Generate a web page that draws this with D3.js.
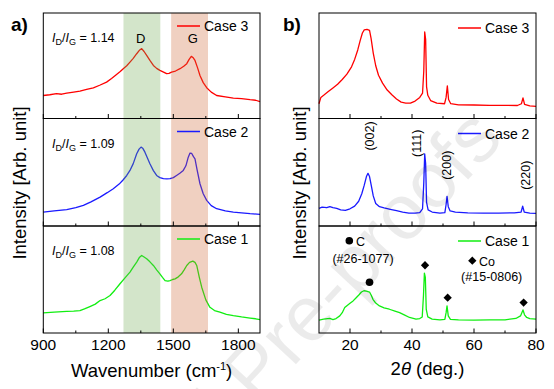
<!DOCTYPE html>
<html>
<head>
<meta charset="utf-8">
<script src="https://cdn.jsdelivr.net/npm/d3@7"></script>
<style>
  body { margin: 0; background: #fff; }
  svg { display: block; font-family: Arial, "Liberation Sans", sans-serif; }
</style>
</head>
<body>
<svg id="chart" width="554" height="389"></svg>
<script>
// ---- Raman (panel a) ----
const ramanCase3 = [[900,21.8],[930,22.5],[961,23.5],[985,23],[1008,24],[1040,25],[1069,26],[1100,27.5],[1131,29],[1160,31.5],[1192,34.5],[1215,38],[1238,41.8],[1255,44.5],[1269,47.2],[1285,50],[1300,53.5],[1315,57],[1331,61.4],[1345,65],[1354,66.2],[1365,63.5],[1377,59.8],[1392,55],[1408,50.3],[1423,47.5],[1438,45.6],[1455,44],[1469,42.5],[1480,42.8],[1492,44],[1510,45],[1531,47.2],[1548,49.5],[1562,52],[1573,56],[1583,58.9],[1592,57.5],[1600,55],[1612,48],[1623,40.8],[1638,34],[1654,29.2],[1675,25],[1700,21.8],[1740,20.5],[1777,19.3],[1815,18.8],[1854,17.8],[1880,17.3],[1900,16.1]];
const ramanCase2 = [[900,13],[950,14],[1008,15.2],[1050,17],[1085,19.2],[1120,22.5],[1162,26.9],[1195,31],[1223,34.7],[1250,39],[1269,43],[1285,47],[1300,51.7],[1315,58],[1331,67.2],[1342,71.5],[1351,73.4],[1360,72],[1369,68.7],[1380,63.5],[1392,57.9],[1408,51.5],[1423,47],[1438,45],[1454,44],[1470,43.8],[1485,44],[1500,45],[1515,47],[1530,49],[1546,51.7],[1558,56],[1569,64],[1577,67.8],[1585,67.5],[1593,64.5],[1600,62.5],[1610,52],[1623,39.3],[1638,30],[1654,23.8],[1675,19],[1700,16.1],[1740,14],[1777,13],[1815,12.3],[1854,11.5],[1900,10.8]];
const ramanCase1 = [[900,18.75],[950,19.5],[1008,20.3],[1040,20.5],[1069,20.9],[1090,22.5],[1115,24.7],[1140,27],[1162,30.3],[1185,32],[1208,35],[1230,40],[1254,46],[1277,51.5],[1300,56.9],[1315,61.5],[1331,66.3],[1343,70.5],[1354,72.5],[1365,71],[1377,69.4],[1392,66.5],[1408,63.1],[1423,59],[1438,55.3],[1450,52],[1462,49],[1475,48.5],[1485,49],[1497,50],[1508,50.6],[1523,52.5],[1538,55.3],[1550,59],[1562,63.1],[1575,66],[1590,67.2],[1600,66],[1608,63.1],[1620,52],[1631,42.8],[1650,31],[1669,24],[1690,21],[1715,19.4],[1745,17.5],[1777,16.25],[1815,15],[1854,14],[1880,13.3],[1900,12.5]];
const ramanRatios = ["1.14", "1.09", "1.08"];
const ramanBands = [{ name: "D", from: 1270, to: 1440, peak: 1350 }, { name: "G", from: 1490, to: 1660, peak: 1590 }];
const ramanMajor = [900, 1200, 1500, 1800];
const ramanMinor = [1050, 1350, 1650];

// ---- XRD (panel b) ----
const xrdCase3 = [[10,14],[10.6,20],[11.5,22],[13,25.5],[14.5,29],[16,32.5],[17.5,37],[19,42],[20.5,49],[21.5,56],[22.5,65],[23.3,74],[24,81],[24.6,84],[25.5,84.5],[26.3,83.5],[26.8,76],[27.5,62],[28.3,50],[29.2,41],[30.5,33.5],[32,27],[33.5,22.5],[35,18.5],[36.5,15.5],[38,14.5],[39.5,14.5],[41,16.5],[42.5,20],[43.4,24],[43.8,45],[44.1,82],[44.4,75],[44.7,30],[45.1,22],[46,17],[48,14.5],[50.5,14],[51,20],[51.4,31],[51.8,18],[52.5,14],[55,13],[60,12.8],[65,12.5],[70,12.5],[74,12.3],[75.3,14],[75.8,19.5],[76.3,13.5],[78,12],[80,11.5]];
const xrdCase2 = [[10,16.4],[11,17.5],[12.5,17],[13.5,18],[14.5,17],[15.7,16.4],[17,15],[18.5,14.5],[20,16],[21.5,18.5],[22.8,23],[23.8,30],[24.6,38],[25.3,46],[25.8,49],[26.3,46],[26.9,37],[27.5,28],[28.3,21],[29.5,18],[31,16.8],[33,15.5],[35,14.2],[37,13],[39,12],[41,12],[42.5,12.5],[43.4,16],[43.8,40],[44.1,67],[44.4,58],[44.7,22],[45.2,15],[46.5,13],[49,12],[50.6,12.5],[51,20],[51.3,27.5],[51.7,18],[52.3,14],[54,13],[58,12.3],[63,12],[68,12],[73,12.2],[75.2,13],[75.7,18.5],[76.2,13],[78,12],[80,11.7]];
const xrdCase1 = [[10,12],[11.5,13],[13.5,13.6],[14.5,12.5],[15.5,13.5],[16.7,16],[17.5,19],[18.3,23.8],[19.2,26],[20,27.8],[21,30],[22,33],[23,36],[23.7,38.3],[24.5,39.5],[25.3,39.2],[26.3,38.3],[26.9,35],[27.4,31.5],[28.3,28],[29.5,25.3],[31,23.5],[32.7,22.2],[34.5,20.5],[36,19],[37.5,17],[39.2,14.5],[41.3,13],[42.5,13.5],[43.3,15],[43.7,35],[44,56],[44.3,52],[44.6,22],[45.1,15],[46.5,13],[49,12.3],[50.6,12.8],[51,19],[51.3,25.3],[51.7,16],[52.4,12.8],[55,12.3],[60,12],[65,12.2],[70,12.3],[73.5,13.6],[75,16],[75.8,21.6],[76.3,17],[77,14.5],[78,13.5],[80,13]];
const xrdPlanes = [{ label: "(002)", x: 26.3, y: 83.7 }, { label: "(111)", x: 41.5, y: 77 }, { label: "(200)", x: 51.2, y: 56.5 }, { label: "(220)", x: 76.5, y: 47.2 }];
const carbonMarks = [[26.3, 47.5]];
const cobaltMarks = [[44.2, 63.3], [51.5, 33], [76, 28.4]];
const xrdMajor = [20, 40, 60, 80];
const xrdMinor = [30, 50, 70];

const caseNames = ["Case 3", "Case 2", "Case 1"];
const caseColors = ["#ff0000", "#1a1aff", "#11ee11"];

const svg = d3.select("#chart");
const rows = [13, 118.5, 226, 333];
const fontFam = 'Arial, "Liberation Sans", sans-serif';

function drawPanel(opt) {
    const g = svg.append("g");
    const x = d3.scaleLinear().domain(opt.domain).range([opt.left, opt.right]);

    // subplots: curves first
    opt.series.forEach((s, i) => {
        const y = d3.scaleLinear().domain([0, 100]).range([rows[i + 1], rows[i]]);
        g.append("path")
            .datum(s)
            .attr("fill", "none")
            .attr("stroke", caseColors[i])
            .attr("stroke-width", 1.3)
            .attr("stroke-linejoin", "round")
            .attr("d", d3.line().x(d => x(d[0])).y(d => y(d[1])));
    });

    // highlighted bands over the curves (semi-transparent)
    if (opt.bands) {
        const bandColors = ["rgba(110,170,80,0.3)", "rgba(205,100,50,0.3)"];
        opt.bands.forEach((b, k) => {
            g.append("rect")
                .attr("x", x(b.from)).attr("y", rows[0])
                .attr("width", x(b.to) - x(b.from))
                .attr("height", rows[3] - rows[0])
                .attr("fill", bandColors[k]);
            g.append("text")
                .attr("x", x(b.peak)).attr("y", rows[0] + 30)
                .attr("text-anchor", "middle")
                .attr("font-size", 13)
                .text(b.name);
        });
    }

    opt.series.forEach((s, i) => {
        const top = rows[i], bottom = rows[i + 1];
        // frame
        g.append("rect")
            .attr("x", opt.left).attr("y", top)
            .attr("width", opt.right - opt.left).attr("height", bottom - top)
            .attr("fill", "none").attr("stroke", "#000").attr("stroke-width", 1);
        // inward ticks on the bottom edge
        const axis = g.append("g").attr("transform", `translate(0,${bottom})`);
        axis.selectAll(".maj").data(opt.major).join("line")
            .attr("x1", d => x(d)).attr("x2", d => x(d))
            .attr("y1", 0).attr("y2", -4.5)
            .attr("stroke", "#000");
        axis.selectAll(".min").data(opt.minor).join("line")
            .attr("x1", d => x(d)).attr("x2", d => x(d))
            .attr("y1", 0).attr("y2", -2.5)
            .attr("stroke", "#000");
        // legend
        g.append("line")
            .attr("x1", opt.legendX).attr("x2", opt.legendX + 23)
            .attr("y1", top + opt.legendDy).attr("y2", top + opt.legendDy)
            .attr("stroke", caseColors[i]).attr("stroke-width", 1.5);
        g.append("text")
            .attr("x", opt.legendX + 27).attr("y", top + opt.legendDy + 5)
            .attr("font-size", 14)
            .text(caseNames[i]);
    });

    // tick labels
    g.selectAll(".tl").data(opt.major).join("text")
        .attr("x", d => x(d)).attr("y", rows[3] + 17)
        .attr("text-anchor", "middle")
        .attr("font-size", 15.5)
        .text(d => d);

    return x;
}

// ---- panel a ----
const xa = drawPanel({
    left: 43.3, right: 260, domain: [900, 1900],
    series: [ramanCase3, ramanCase2, ramanCase1],
    major: ramanMajor, minor: ramanMinor, bands: ramanBands,
    legendX: 177, legendDy: 13
});

ramanRatios.forEach((r, i) => {
    const t = svg.append("text")
        .attr("x", 52).attr("y", rows[i] + 29)
        .attr("font-size", 12.5);
    t.append("tspan").attr("font-style", "italic").text("I");
    t.append("tspan").attr("font-size", 9).attr("dy", 3).text("D");
    t.append("tspan").attr("dy", -3).text("/");
    t.append("tspan").attr("font-style", "italic").text("I");
    t.append("tspan").attr("font-size", 9).attr("dy", 3).text("G");
    t.append("tspan").attr("dy", -3).text(" = " + r);
});

const xTitleA = svg.append("text")
    .attr("x", (43.3 + 260) / 2).attr("y", 377)
    .attr("text-anchor", "middle").attr("font-size", 18.5);
xTitleA.append("tspan").text("Wavenumber (cm");
xTitleA.append("tspan").attr("font-size", 11).attr("dy", -7).text("-1");
xTitleA.append("tspan").attr("dy", 7).text(")");

// ---- panel b ----
const xb = drawPanel({
    left: 319, right: 536, domain: [10, 80],
    series: [xrdCase3, xrdCase2, xrdCase1],
    major: xrdMajor, minor: xrdMinor,
    legendX: 458, legendDy: 15
});

const yRow2 = d3.scaleLinear().domain([0, 100]).range([rows[2], rows[1]]);
const yRow3 = d3.scaleLinear().domain([0, 100]).range([rows[3], rows[2]]);

xrdPlanes.forEach(p => {
    svg.append("text")
        .attr("transform", `translate(${xb(p.x)},${yRow2(p.y)}) rotate(-90)`)
        .attr("text-anchor", "middle").attr("dy", "0.35em")
        .attr("font-size", 12.5)
        .text(p.label);
});

const diamond = d3.symbol().type(d3.symbolDiamond2).size(44);
svg.selectAll(".cmark").data(carbonMarks).join("circle")
    .attr("cx", d => xb(d[0])).attr("cy", d => yRow3(d[1])).attr("r", 3.8).attr("fill", "#000");
svg.selectAll(".comark").data(cobaltMarks).join("path")
    .attr("transform", d => `translate(${xb(d[0])},${yRow3(d[1])})`)
    .attr("d", diamond).attr("fill", "#000");

// phase key
svg.append("circle").attr("cx", 349.3).attr("cy", 240.7).attr("r", 3.8).attr("fill", "#000");
svg.append("text").attr("x", 356).attr("y", 245.5).attr("font-size", 12.5).text("C");
svg.append("text").attr("x", 363).attr("y", 262.5).attr("text-anchor", "middle").attr("font-size", 12.5).text("(#26-1077)");
svg.append("path").attr("transform", "translate(472.3,260.7)").attr("d", diamond).attr("fill", "#000");
svg.append("text").attr("x", 479).attr("y", 265.5).attr("font-size", 12.5).text("Co");
svg.append("text").attr("x", 491.7).attr("y", 281).attr("text-anchor", "middle").attr("font-size", 12.5).text("(#15-0806)");

const xTitleB = svg.append("text")
    .attr("x", (319 + 536) / 2).attr("y", 375)
    .attr("text-anchor", "middle").attr("font-size", 18.5);
xTitleB.append("tspan").text("2");
xTitleB.append("tspan").attr("font-style", "italic").text("θ");
xTitleB.append("tspan").text(" (deg.)");

// ---- shared labels ----
[[19.5, 183], [299.5, 183]].forEach(([cx, cy]) => {
    svg.append("text")
        .attr("transform", `translate(${cx},${cy}) rotate(-90)`)
        .attr("text-anchor", "middle").attr("dy", "0.35em")
        .attr("font-size", 18.5)
        .text("Intensity [Arb. unit]");
});

svg.append("text").attr("x", 11).attr("y", 31).attr("font-size", 19).attr("font-weight", "bold").text("a)");
svg.append("text").attr("x", 283).attr("y", 31).attr("font-size", 19).attr("font-weight", "bold").text("b)");

// watermark
svg.append("text")
    .attr("transform", "translate(505,140) rotate(-47)")
    .attr("text-anchor", "end")
    .attr("font-size", 78)
    .attr("fill", "#000").attr("fill-opacity", 0.08)
    .text("Journal Pre-proofs");
</script>
</body>
</html>
